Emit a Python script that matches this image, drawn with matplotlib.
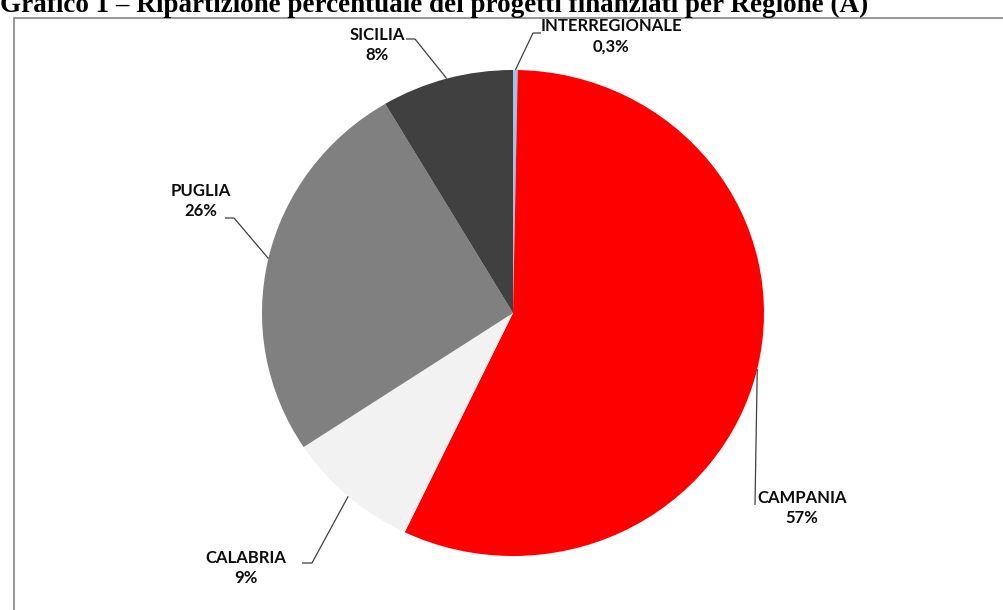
import matplotlib
matplotlib.use('Agg')
import numpy as np
import matplotlib.pyplot as plt
from matplotlib.patches import Rectangle

# data
regioni = ['INTERREGIONALE', 'CAMPANIA', 'CALABRIA', 'PUGLIA', 'SICILIA']
quote = [0.3, 56.8, 8.6, 25.8, 8.5]
etichette_pct = ['0,3%', '57%', '9%', '26%', '8%']
colori = ['#9DC3E6', '#FF0000', '#F2F2F2', '#808080', '#404040']

titolo = 'Grafico 1 \u2013 Ripartizione percentuale dei progetti finanziati per Regione (A)'

W, H = 1004, 610
cx, cy = 513, 313       # pie centre in pixels
sx, sy = 251, 243       # pixels per unit radius

def px(x, y):
    # pixel position -> data coords of the pie axes
    return (x - cx) / sx, (cy - y) / sy

fig = plt.figure(figsize=(W / 100, H / 100), dpi=100)
ax = fig.add_axes([0, 0, 1, 1])

wedges, _ = ax.pie(quote, colors=colori, startangle=90, counterclock=False,
                   radius=1, wedgeprops=dict(linewidth=0))
ax.set_aspect('auto')
ax.set_xlim(-cx / sx, (W - cx) / sx)
ax.set_ylim(-(H - cy) / sy, cy / sy)
ax.axis('off')

# label centre (pixels), elbow start/end of the short horizontal piece
lab_pos = [(611, 36), (802, 508), (246, 568), (201, 201), (377, 45)]
elbow = [[(541, 33), (533, 33)],
         [(755, 505)],
         [(302, 563), (312, 563)],
         [(225, 218), (234, 218)],
         [(406, 39), (415, 39)]]

for w, nome, pct, pos, gomito in zip(wedges, regioni, etichette_pct, lab_pos, elbow):
    mid = np.deg2rad((w.theta1 + w.theta2) / 2)
    ex, ey = 1.0 * np.cos(mid), 1.0 * np.sin(mid)
    pts = [px(*p) for p in gomito] + [(ex, ey)]
    ax.plot([p[0] for p in pts], [p[1] for p in pts], color='#404040', lw=0.9,
            solid_capstyle='butt')
    lx, ly = px(*pos)
    ax.text(lx, ly, nome + '\n' + pct, ha='center', va='center', fontsize=12,
            fontfamily='Lato', fontweight='bold', color='#0d0d0d', linespacing=1.35)

# outer frame (cut by the page on the right and bottom)
fig.add_artist(Rectangle((14.5 / W, -0.05), 1.1, 1 - 17.5 / H + 0.05,
                         transform=fig.transFigure, fill=False,
                         edgecolor='#868686', lw=1.2))

# title, partly cut off at the top
fig.text(0.0, 1 - 12 / H, titolo, ha='left', va='baseline', fontsize=19.5,
         fontfamily='Liberation Serif', fontweight='bold', color='black')

fig.savefig('out.png', dpi=100)
